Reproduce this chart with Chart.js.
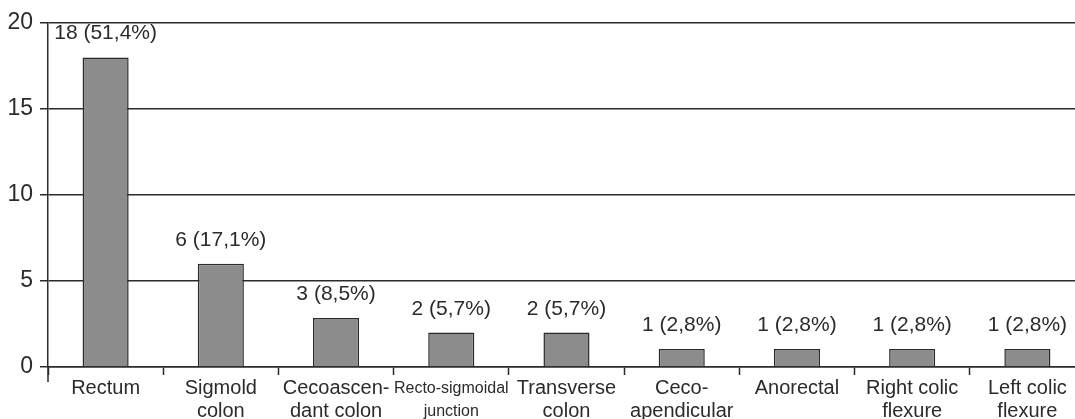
<!DOCTYPE html>
<html>
<head>
<meta charset="utf-8">
<script src="https://cdn.jsdelivr.net/npm/chart.js@4/dist/chart.umd.min.js"></script>
<style>
  html, body { margin: 0; padding: 0; overflow: hidden; background: #fff; }
  #wrap { width: 1088px; height: 432px; }
</style>
</head>
<body>
<div id="wrap"><canvas id="c" width="1088" height="432"></canvas></div>
<script>
const categories = [
  ['Rectum'],
  ['Sigmold', 'colon'],
  ['Cecoascen-', 'dant colon'],
  ['Recto-sigmoidal', 'junction'],
  ['Transverse', 'colon'],
  ['Ceco-', 'apendicular'],
  ['Anorectal'],
  ['Right colic', 'flexure'],
  ['Left colic', 'flexure']
];
const barValues = [18, 6, 2.85, 2, 2, 1.05, 1.05, 1.05, 1.05];
const barLabels = ['18 (51,4%)', '6 (17,1%)', '3 (8,5%)', '2 (5,7%)', '2 (5,7%)', '1 (2,8%)', '1 (2,8%)', '1 (2,8%)', '1 (2,8%)'];
const yTicks = [0, 5, 10, 15, 20];

const FONT = "'Liberation Sans', Arial, sans-serif";
const INK = '#2b2b2b';

const valueLabelPlugin = {
  id: 'valueLabels',
  afterDatasetsDraw(chart) {
    const ctx = chart.ctx;
    const meta = chart.getDatasetMeta(0);
    ctx.save();
    ctx.font = '21px ' + FONT;
    ctx.fillStyle = INK;
    ctx.textAlign = 'center';
    ctx.textBaseline = 'alphabetic';
    meta.data.forEach((bar, i) => {
      ctx.fillText(barLabels[i], bar.x, bar.y - 18);
    });
    ctx.restore();
  }
};

const axisExtPlugin = {
  id: 'axisExt',
  afterDraw(chart) {
    const a = chart.chartArea, ctx = chart.ctx;
    ctx.save();
    ctx.strokeStyle = INK;
    ctx.lineWidth = 1.5;
    ctx.beginPath();
    ctx.moveTo(a.left, a.bottom);
    ctx.lineTo(a.left, a.bottom + 15);
    ctx.stroke();
    ctx.restore();
  }
};

new Chart(document.getElementById('c'), {
  type: 'bar',
  data: {
    labels: categories,
    datasets: [{
      data: barValues,
      backgroundColor: '#8c8c8c',
      borderColor: '#2a2a2a',
      borderWidth: 1.5,
      barPercentage: 0.4,
      categoryPercentage: 1.0
    }]
  },
  options: {
    responsive: false,
    animation: false,
    devicePixelRatio: 1,
    layout: { padding: { top: 23, right: 3, left: 0, bottom: 0 } },
    plugins: { legend: { display: false }, tooltip: { enabled: false } },
    scales: {
      y: {
        min: 0, max: 20,
        afterBuildTicks(scale) { scale.ticks = yTicks.map(v => ({ value: v })); },
        afterFit(scale) { scale.width = 48; },
        border: { display: true, color: INK, width: 1.5 },
        grid: { color: INK, lineWidth: 1.5, tickLength: 8, tickColor: INK, tickWidth: 1.5 },
        ticks: { color: INK, font: { family: FONT, size: 23 }, padding: 7 }
      },
      x: {
        afterFit(scale) { scale.height = 65; },
        border: { display: true, color: INK, width: 1.5 },
        grid: { offset: true, drawOnChartArea: false, tickLength: 8, tickColor: INK, tickWidth: 1.5 },
        ticks: {
          color: INK,
          maxRotation: 0, autoSkip: false, padding: 2,
          font: (c) => c.index === 3
            ? { family: FONT, size: 16, lineHeight: 1.45 }
            : { family: FONT, size: 20, lineHeight: 1.15 }
        }
      }
    }
  },
  plugins: [valueLabelPlugin, axisExtPlugin]
});
</script>
</body>
</html>
